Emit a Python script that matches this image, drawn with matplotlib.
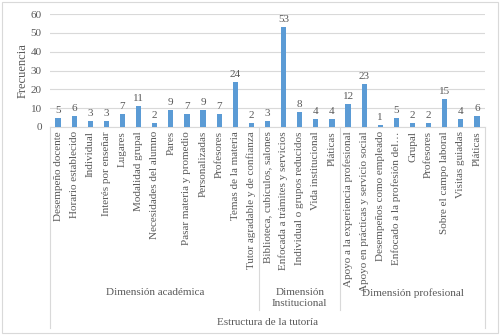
import matplotlib
matplotlib.use("Agg")
import matplotlib.pyplot as plt
from matplotlib.patches import Rectangle
import matplotlib.transforms as mtrans

plt.rcParams['font.family'] = ['Liberation Serif', 'DejaVu Serif']

categories = [
    "Desempeño docente", "Horario establecido", "Individual", "Interés por enseñar",
    "Lugares", "Modalidad grupal", "Necesidades del alumno", "Pares",
    "Pasar materia y promedio", "Personalizadas", "Profesores", "Temas de la materia",
    "Tutor agradable y de confianza",
    "Biblioteca, cubículos, salones", "Enfocada a trámites y servicios",
    "Individual o grupos reducidos", "Vida institucional", "Pláticas",
    "Apoyo a la experiencia profesional", "Apoyo en prácticas y servicio social",
    "Desempeños como empleado", "Enfocado a la profesión del…", "Grupal",
    "Profesores", "Sobre el campo laboral", "Visitas guiadas", "Pláticas",
]
values = [5, 6, 3, 3, 7, 11, 2, 9, 7, 9, 7, 24, 2,
          3, 53, 8, 4, 4,
          12, 23, 1, 5, 2, 2, 15, 4, 6]
groups = ["Dimensión académica", "Dimensión\nInstitucional", "Dimensión profesional"]
group_sizes = [13, 5, 9]
top_label = "Estructura de la tutoría"
y_label = "Frecuencia"
y_ticks = [0, 10, 20, 30, 40, 50, 60]

TXT = "#595959"
LINE = "#D9D9D9"
BAR = "#5B9BD5"

fig = plt.figure(figsize=(5, 3.35), dpi=100)
fig.patches.append(Rectangle((0.004, 0.006), 0.992, 0.988, transform=fig.transFigure,
                             fill=False, edgecolor=LINE, linewidth=0.8))
ax = fig.add_axes([0.1, 0.621, 0.87, 0.337])
x = list(range(len(values)))
ax.bar(x, values, width=0.33, color=BAR, zorder=3)
for xi, v in zip(x, values):
    ax.text(xi, v + 1.6, str(v), ha='center', va='bottom', fontsize=8, color=TXT)
ax.set_xlim(-0.5, len(values) - 0.5)
ax.set_ylim(0, 60)
ax.set_yticks(y_ticks)
ax.yaxis.grid(True, color=LINE, linewidth=0.8, zorder=0)
ax.tick_params(axis='y', length=0, labelsize=8, labelcolor=TXT, pad=6)
for s in ['top', 'right', 'left']:
    ax.spines[s].set_visible(False)
ax.spines['bottom'].set_color(LINE)
ax.set_xticks(x)
ax.set_xticklabels(categories, rotation=90, fontsize=8, color=TXT)
ax.tick_params(axis='x', length=0, pad=3)
ax.set_ylabel(y_label, fontsize=9, color=TXT, labelpad=1)

trans = mtrans.blended_transform_factory(ax.transData, ax.transAxes)
for xv in [-0.5, len(values) - 0.5]:
    ax.plot([xv, xv], [0, -1.78], transform=trans, color=LINE, lw=0.8, clip_on=False)
start = 0
for g, n in zip(groups, group_sizes):
    end = start + n
    if end < len(values):
        ax.plot([end - 0.5, end - 0.5], [0, -1.62], transform=trans, color=LINE,
                lw=0.8, clip_on=False)
    ax.text((start + end - 1) / 2, -1.425, g, transform=trans, ha='center', va='top',
            fontsize=8, color=TXT, linespacing=1.3)
    start = end
ax.text((len(values) - 1) / 2, -1.69, top_label, transform=trans, ha='center', va='top',
        fontsize=8, color=TXT)

fig.savefig("out.png", dpi=100)
